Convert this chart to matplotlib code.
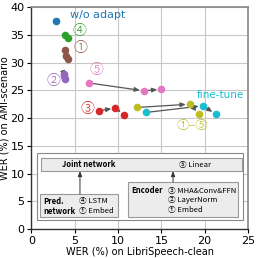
import matplotlib
matplotlib.use('Agg')
from matplotlib import pyplot as plt
from matplotlib.patches import Rectangle

# WER (%) on LibriSpeech-clean (x) and AMI-scenario (y) per adapted module
blue_x, blue_y = [2.8], [37.5]
green_x, green_y = [3.9, 4.2], [35.0, 34.4]
brown_x, brown_y = [3.9, 4.0, 4.2], [32.3, 31.1, 30.6]
purple_x, purple_y = [3.7, 3.8, 3.9], [28.0, 27.5, 27.1]
pink_x, pink_y = [6.7, 13.0, 15.0], [26.3, 24.9, 25.2]
red_x, red_y = [7.8, 9.7, 10.7], [21.3, 21.8, 20.6]
olive_x, olive_y = [12.2, 18.3, 19.4], [21.9, 22.5, 20.7]
cyan_x, cyan_y = [13.2, 19.8, 21.3], [21.0, 22.2, 20.7]

series = [
    (blue_x, blue_y, '#1f77b4'),
    (green_x, green_y, '#2ca02c'),
    (brown_x, brown_y, '#8c564b'),
    (purple_x, purple_y, '#9467bd'),
    (pink_x, pink_y, '#e377c2'),
    (red_x, red_y, '#d62728'),
    (olive_x, olive_y, '#bcbd22'),
    (cyan_x, cyan_y, '#17becf'),
]

circ = ['Noto Sans CJK JP', 'DejaVu Sans']

fig = plt.figure(figsize=(2.58, 2.58), dpi=100)
ax = fig.add_axes([0.122, 0.112, 0.839, 0.861])

ax.set_xlim(0, 25)
ax.set_ylim(0, 40)
ax.set_xticks([0, 5, 10, 15, 20, 25])
ax.set_yticks([0, 5, 10, 15, 20, 25, 30, 35, 40])
ax.grid(True, color='#c8c8c8', lw=0.8)
ax.set_axisbelow(True)
ax.tick_params(labelsize=8, length=3, width=0.8, pad=2)
for s in ['left', 'bottom']:
    ax.spines[s].set_color('#333333')
    ax.spines[s].set_linewidth(1.0)
for s in ['top', 'right']:
    ax.spines[s].set_color('#888888')
    ax.spines[s].set_linewidth(1.2)

ax.set_xlabel('WER (%) on LibriSpeech-clean', fontsize=7, labelpad=1)
ax.set_ylabel('WER (%) on AMI-scenario', fontsize=7, labelpad=1)

for xs, ys, c in series:
    for i in range(len(xs) - 1):
        ax.annotate('', xy=(xs[i + 1], ys[i + 1]), xytext=(xs[i], ys[i]),
                    arrowprops=dict(arrowstyle='-|>,head_length=0.3,head_width=0.13',
                                    color='#555555', lw=0.9, shrinkA=2, shrinkB=3),
                    zorder=2)
    ax.scatter(xs, ys, s=30, color=c, zorder=3, linewidths=0)

ax.text(4.4, 38.6, 'w/o adapt', color='#1f77b4', fontsize=8, va='center', ha='left')
ax.text(19.1, 24.1, 'fine-tune', color='#17becf', fontsize=7.5, va='center', ha='left')
ck = dict(fontsize=10, va='center', ha='center', family=circ, fontweight='light')
ax.text(5.5, 35.7, '④', color='#2ca02c', **ck)
ax.text(5.6, 32.7, '①', color='#8c564b', **ck)
ax.text(2.5, 26.7, '②', color='#9467bd', **ck)
ax.text(7.5, 28.6, '⑤', color='#e377c2', **ck)
ax.text(6.5, 21.6, '③', color='#d62728', **ck)
ax.text(18.6, 18.7, '①–⑤', color='#bcbd22', fontsize=9, va='center', ha='center',
        family=circ, fontweight='light')

# inset: model diagram
T = ax.transAxes
ax.add_patch(Rectangle((0.029, 0.037), 0.952, 0.301, transform=T, facecolor='#999999',
                       edgecolor='none', zorder=4))
ax.add_patch(Rectangle((0.025, 0.041), 0.952, 0.301, transform=T, facecolor='white',
                       edgecolor='#888888', lw=0.8, zorder=5))
box = dict(transform=T, facecolor='#ececec', edgecolor='#999999', lw=0.8, zorder=6)
ax.add_patch(Rectangle((0.044, 0.261), 0.928, 0.059, **box))
ax.add_patch(Rectangle((0.039, 0.054), 0.361, 0.104, **box))
ax.add_patch(Rectangle((0.446, 0.054), 0.508, 0.158, **box))

for x0, y0 in [(0.224, 0.158), (0.654, 0.212)]:
    ax.annotate('', xy=(x0, 0.261), xytext=(x0, y0), xycoords=T, textcoords=T,
                arrowprops=dict(arrowstyle='-|>,head_length=0.3,head_width=0.12',
                                color='#333333', lw=0.7, shrinkA=0, shrinkB=0),
                zorder=7)

fs = 5.5
kw = dict(transform=T, fontsize=fs, va='center', zorder=8, family=circ)
ax.text(0.266, 0.29, 'Joint network', ha='center', fontweight='bold', **kw)
ax.text(0.755, 0.29, '⑤ Linear', ha='center', **kw)
ax.text(0.053, 0.126, 'Pred.', ha='left', fontweight='bold', **kw)
ax.text(0.053, 0.081, 'network', ha='left', fontweight='bold', **kw)
ax.text(0.219, 0.126, '④ LSTM', ha='left', **kw)
ax.text(0.219, 0.081, '① Embed', ha='left', **kw)
ax.text(0.46, 0.173, 'Encoder', ha='left', fontweight='bold', **kw)
ax.text(0.63, 0.173, '③ MHA&Conv&FFN', ha='left', **kw)
ax.text(0.63, 0.13, '② LayerNorm', ha='left', **kw)
ax.text(0.63, 0.086, '① Embed', ha='left', **kw)

fig.savefig('out.png', dpi=100)
